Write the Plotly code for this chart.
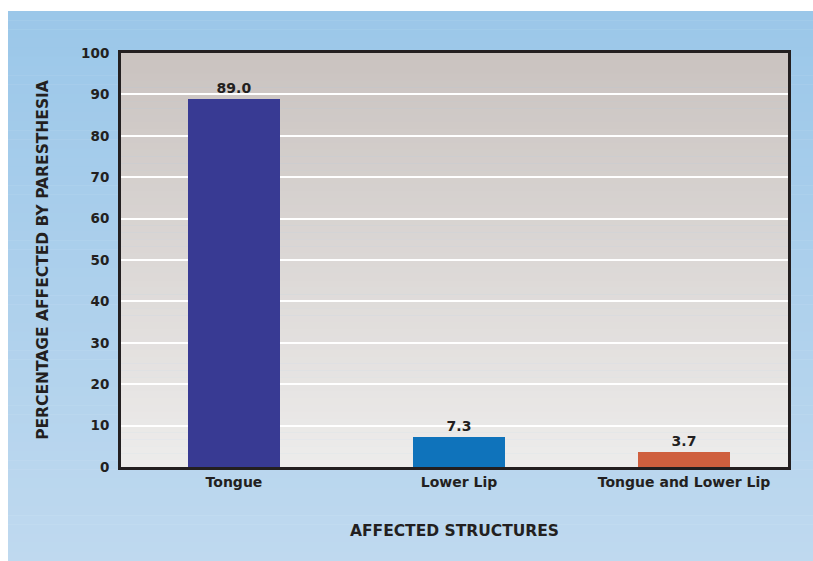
import plotly.graph_objects as go

categories = ["Tongue", "Lower Lip", "Tongue and Lower Lip"]
values = [89.0, 7.3, 3.7]
bar_colors = ["#383a93", "#0f73bb", "#cf5f3e"]
y_ticks = [0, 10, 20, 30, 40, 50, 60, 70, 80, 90, 100]

W, H = 813, 561
L, R, T, B = 121, 25, 53, 94
pw, ph = W - L - R, H - T - B

def px_x(x):
    return (x - L) / pw

def px_y(y):
    return (H - B - y) / ph

def mix(c1, c2, t):
    return "rgb(%d,%d,%d)" % tuple(round(a + (b - a) * t) for a, b in zip(c1, c2))

shapes = []
# outer blue gradient
N = 60
x0, x1 = px_x(8), px_x(813)
ytop, ybot = px_y(11), px_y(561)
top_c, bot_c = (155, 199, 233), (191, 217, 239)
for i in range(N):
    a = ytop + (ybot - ytop) * i / N
    b = ytop + (ybot - ytop) * (i + 1.05) / N
    shapes.append(dict(type="rect", xref="paper", yref="paper", x0=x0, x1=x1,
                       y0=min(a, b), y1=max(a, b), fillcolor=mix(top_c, bot_c, i / (N - 1)),
                       line=dict(width=0), layer="below"))
# plot area gradient
top_p, bot_p = (202, 195, 192), (237, 236, 235)
for i in range(N):
    a = 1 - i / N
    b = 1 - (i + 1.05) / N
    shapes.append(dict(type="rect", xref="paper", yref="paper", x0=0, x1=1,
                       y0=max(b, 0), y1=a, fillcolor=mix(top_p, bot_p, i / (N - 1)),
                       line=dict(width=0), layer="below"))

fig = go.Figure()
fig.add_trace(go.Bar(
    x=list(range(len(categories))), y=values, width=0.41,
    marker=dict(color=bar_colors, line=dict(width=0)),
    text=[f"{v:.1f}" for v in values], textposition="outside",
    textfont=dict(family="DejaVu Sans", size=14, color="#231f20"),
    cliponaxis=False,
))

font_b = dict(family="DejaVu Sans", size=13, color="#231f20")
fig.update_layout(
    width=W, height=H,
    margin=dict(l=L, r=R, t=T, b=B),
    paper_bgcolor="white", plot_bgcolor="rgba(0,0,0,0)",
    shapes=shapes, showlegend=False, bargap=0,
    font=font_b,
)
fig.update_xaxes(
    tickmode="array", tickvals=list(range(len(categories))),
    ticktext=["<b>%s</b>" % c for c in categories],
    range=[-0.502, 2.462], showgrid=False, zeroline=False,
    showline=True, linecolor="#231f20", linewidth=3, mirror=True,
    ticks="", tickfont=dict(family="DejaVu Sans", size=14, color="#231f20"),
    title=dict(text="<b>AFFECTED STRUCTURES</b>", standoff=37,
               font=dict(family="DejaVu Sans", size=15.5, color="#231f20")),
)
fig.update_yaxes(
    tickmode="array", tickvals=y_ticks,
    ticktext=["<b>%d</b>" % v for v in y_ticks],
    range=[0, 100], showgrid=True, gridcolor="white", gridwidth=2,
    zeroline=False, showline=True, linecolor="#231f20", linewidth=3, mirror=True,
    ticks="", ticklabelstandoff=6,
    tickfont=dict(family="DejaVu Sans", size=13.5, color="#231f20"),
    title=dict(text="<b>PERCENTAGE AFFECTED BY PARESTHESIA</b>", standoff=29,
               font=dict(family="DejaVu Sans", size=15.5, color="#231f20")),
)
fig.update_traces(texttemplate="<b>%{text}</b>")
fig.write_html("out.html")
